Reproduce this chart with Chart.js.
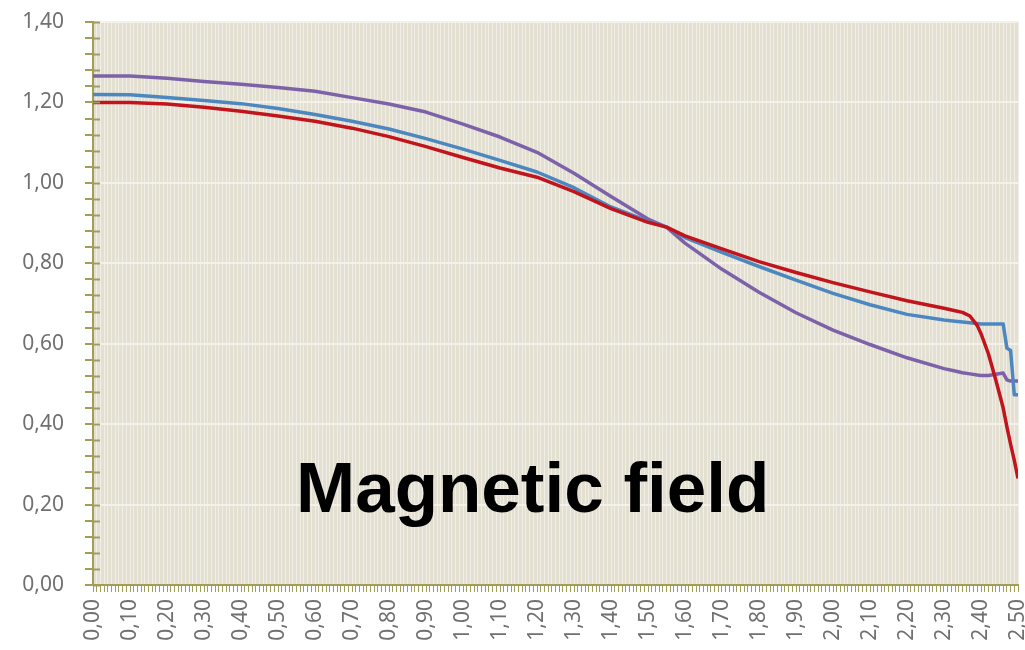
<!DOCTYPE html>
<html>
<head>
<meta charset="utf-8">
<script src="https://cdn.jsdelivr.net/npm/chart.js@4/dist/chart.umd.min.js"></script>
<style>
    body { margin: 0; background: #fff; }
    #wrap { position: relative; width: 1025px; height: 650px; overflow: hidden; }
    #caption {
        position: absolute;
        left: 296px;
        top: 452px;
        font: bold 71px 'Liberation Sans', Arial, sans-serif;
        line-height: 71px;
        color: #000;
        white-space: nowrap;
    }
</style>
</head>
<body>
<div id="wrap">
    <canvas id="fieldChart" width="1025" height="650"></canvas>
    <div id="caption">Magnetic field</div>
</div>
<script>
// positions along the magnet (x) and field values for the three curves
const xValues = [0.00, 0.10, 0.20, 0.30, 0.40, 0.50, 0.60, 0.70, 0.80, 0.90,
    1.00, 1.10, 1.20, 1.30, 1.40, 1.50, 1.55, 1.60, 1.70, 1.80, 1.90,
    2.00, 2.10, 2.20, 2.30, 2.33, 2.35, 2.37, 2.39, 2.40, 2.42, 2.44, 2.46,
    2.47, 2.48, 2.49, 2.50];

const redValues = [1.200, 1.200, 1.196, 1.188, 1.178, 1.166, 1.153, 1.136, 1.115, 1.090,
    1.063, 1.037, 1.014, 0.978, 0.936, 0.902, 0.890, 0.868, 0.836, 0.804, 0.777,
    0.752, 0.729, 0.707, 0.688, 0.682, 0.678, 0.669, 0.645, 0.625, 0.575, 0.510, 0.440,
    0.393, 0.350, 0.310, 0.265];

const blueValues = [1.220, 1.219, 1.212, 1.205, 1.197, 1.185, 1.170, 1.153, 1.134, 1.110,
    1.084, 1.056, 1.027, 0.988, 0.940, 0.905, 0.890, 0.864, 0.827, 0.792, 0.758,
    0.725, 0.697, 0.673, 0.659, 0.656, 0.654, 0.652, 0.650, 0.649, 0.649, 0.649, 0.649,
    0.589, 0.583, 0.473, 0.473];

const purpleValues = [1.266, 1.266, 1.260, 1.252, 1.245, 1.237, 1.228, 1.212, 1.196, 1.176,
    1.146, 1.114, 1.076, 1.024, 0.966, 0.910, 0.890, 0.850, 0.785, 0.728, 0.677,
    0.634, 0.598, 0.565, 0.538, 0.532, 0.528, 0.525, 0.522, 0.521, 0.521, 0.524, 0.527,
    0.510, 0.507, 0.507, 0.507];

const Y_MAX = 1.40;
const Y_STEP = 0.04;
const Y_LABEL_STEP = 0.20;
const X_MAX = 2.50;
const X_STEP = 0.01;

const OLIVE = '#a29d58';
const LABEL_GRAY = '#707070';

function toPoints(values) {
    return values.map((v, i) => ({ x: xValues[i], y: v }));
}

function isMajor(value) {
    const r = value / Y_LABEL_STEP;
    return Math.abs(r - Math.round(r)) < 1e-6;
}

function formatComma(value) {
    return value.toFixed(2).replace('.', ',');
}

// plot background and the part of the y ticks that crosses into the plot
const plotDecor = {
    id: 'plotDecor',
    beforeDraw(chart) {
        const { ctx, chartArea } = chart;
        ctx.save();
        ctx.fillStyle = '#e3e0d2';
        ctx.fillRect(chartArea.left, chartArea.top, chartArea.right - chartArea.left, chartArea.bottom - chartArea.top);
        ctx.restore();
    },
    afterDatasetsDraw(chart) {
        const { ctx, chartArea } = chart;
        const yScale = chart.scales.y;
        ctx.save();
        ctx.strokeStyle = OLIVE;
        ctx.lineWidth = 2;
        yScale.ticks.forEach((t) => {
            const py = Math.round(yScale.getPixelForValue(t.value)) + 0.5;
            ctx.beginPath();
            ctx.moveTo(chartArea.left, py);
            ctx.lineTo(chartArea.left + 7, py);
            ctx.stroke();
        });
        ctx.restore();
    }
};

const ctx = document.getElementById('fieldChart').getContext('2d');
const chart = new Chart(ctx, {
    type: 'line',
    data: {
        datasets: [
            { label: 'red', data: toPoints(redValues), borderColor: '#c1141c', borderWidth: 3.5 },
            { label: 'blue', data: toPoints(blueValues), borderColor: '#4d87c0', borderWidth: 3.5 },
            { label: 'purple', data: toPoints(purpleValues), borderColor: '#7d62a9', borderWidth: 3.5 }
        ]
    },
    options: {
        responsive: false,
        animation: false,
        events: [],
        elements: { point: { radius: 0 }, line: { tension: 0, borderJoinStyle: 'round' } },
        layout: { padding: { top: 22, right: 7, left: 0, bottom: 0 } },
        plugins: { legend: { display: false }, tooltip: { enabled: false } },
        scales: {
            x: {
                type: 'linear',
                min: 0,
                max: X_MAX,
                afterFit(scale) {
                    scale.height = 65;
                    scale.paddingLeft = 0;
                    scale.paddingRight = 0;
                },
                border: { color: OLIVE, width: 2 },
                grid: {
                    color: '#f0eee7',
                    lineWidth: 1,
                    tickColor: OLIVE,
                    tickLength: 7
                },
                ticks: {
                    stepSize: X_STEP,
                    autoSkip: false,
                    minRotation: 90,
                    maxRotation: 90,
                    padding: 7,
                    color: LABEL_GRAY,
                    font: { family: 'Noto Sans', size: 21 },
                    callback: (value, index) => (index % 10 === 0 ? formatComma(value) : '')
                }
            },
            y: {
                min: 0,
                max: Y_MAX,
                afterFit(scale) {
                    scale.width = 93;
                    scale.paddingTop = 0;
                    scale.paddingBottom = 0;
                },
                border: { color: OLIVE, width: 2 },
                grid: {
                    color: (c) => (c.tick && isMajor(c.tick.value) ? '#f3f1ea' : 'rgba(0,0,0,0)'),
                    lineWidth: 2,
                    tickColor: OLIVE,
                    tickWidth: 2,
                    tickLength: 8
                },
                ticks: {
                    stepSize: Y_STEP,
                    autoSkip: false,
                    padding: 21,
                    color: LABEL_GRAY,
                    font: { family: 'Noto Sans', size: 21 },
                    callback: (value) => (isMajor(value) ? formatComma(value) : '')
                }
            }
        }
    },
    plugins: [plotDecor]
});
</script>
</body>
</html>
